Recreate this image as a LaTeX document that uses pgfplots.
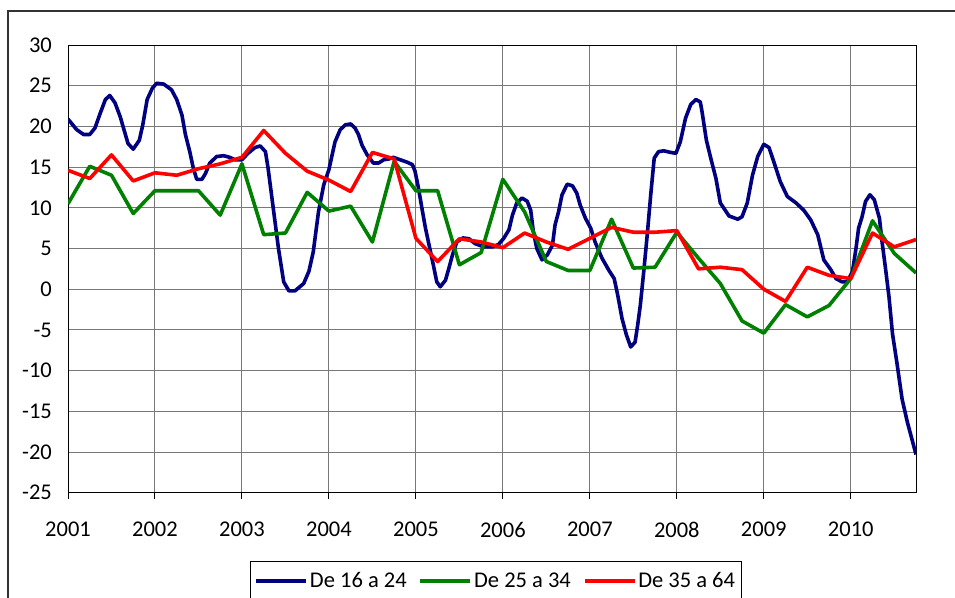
\documentclass[border=0pt]{standalone}
\usepackage{fontspec}
\setmainfont{Carlito}
\usepackage{pgfplots}
\pgfplotsset{compat=1.18}
\definecolor{cblue}{RGB}{0,0,128}
\definecolor{cgreen}{RGB}{0,128,0}
\definecolor{cred}{RGB}{255,0,0}
\definecolor{cgrid}{RGB}{120,120,120}
\newcommand{\myfont}{\fontsize{22.5bp}{27bp}\selectfont}
\begin{document}
\begin{tikzpicture}
\useasboundingbox (0bp,0bp) rectangle (955bp,-598bp);
\fill[white] (0bp,0bp) rectangle (955bp,-598bp);
\draw[line width=1.2bp, black!80] (8bp,-11bp) rectangle (965bp,-620bp);
\begin{axis}[
  at={(68bp,-45bp)}, anchor=north west,
  scale only axis, width=848bp, height=447.7bp,
  xmin=2001, xmax=2010.75, ymin=-25, ymax=30,
  xtick={2001,2002,2003,2004,2005,2006,2007,2008,2009,2010},
  ytick={-25,-20,-15,-10,-5,0,5,10,15,20,25,30},
  grid=major,
  major grid style={cgrid, line width=1bp},
  axis line style={black, line width=1bp},
  tick align=outside, major tick length=6bp,
  xtick pos=bottom, ytick pos=left,
  ytick style={draw=none},
  xtick style={black, line width=1bp},
  tick label style={font=\myfont},
  /pgf/number format/assume math mode=true,
  /pgf/number format/1000 sep={},
  xticklabel style={inner sep=0pt, anchor=north, yshift=-23bp},
  yticklabel style={inner sep=0pt, anchor=east, xshift=-10bp},
  legend columns=3,
  legend style={at={(0.2146,-0.1526)}, anchor=north west, draw=black, line width=1bp,
    font=\myfont, inner xsep=4bp, inner ysep=9bp,
    /tikz/every even column/.append style={column sep=10bp}},
  legend image code/.code={\draw[#1, line width=3.5bp] (0bp,0bp) -- (50bp,0bp);},
  every axis plot/.append style={line width=3.6bp, line join=round, mark=none},
]
\addplot[cblue] coordinates {
(2001.00,20.9) (2001.10,19.6) (2001.18,19.0) (2001.25,19.0) (2001.31,19.8) (2001.37,21.6)
(2001.43,23.3) (2001.48,23.8) (2001.54,22.9) (2001.60,21.2) (2001.66,19.0) (2001.69,17.9)
(2001.75,17.2) (2001.82,18.3) (2001.86,20.2) (2001.91,23.3) (2001.97,24.7) (2002.02,25.3)
(2002.10,25.2) (2002.19,24.5) (2002.25,23.3) (2002.31,21.4) (2002.35,19.0) (2002.40,16.9)
(2002.44,14.9) (2002.48,13.5) (2002.54,13.5) (2002.58,14.2) (2002.63,15.5) (2002.71,16.3)
(2002.79,16.4) (2002.86,16.2) (2002.92,15.9) (2003.00,15.9) (2003.07,16.7) (2003.15,17.4)
(2003.21,17.6) (2003.27,16.9) (2003.30,14.9) (2003.34,11.6) (2003.38,8.3) (2003.42,5.0)
(2003.48,0.9) (2003.54,-0.2) (2003.61,-0.2) (2003.71,0.7) (2003.77,2.2) (2003.82,4.6)
(2003.88,9.5) (2003.94,12.8) (2004.00,14.7) (2004.07,18.1) (2004.13,19.6) (2004.19,20.2)
(2004.25,20.3) (2004.30,19.8) (2004.34,19.0) (2004.38,17.7) (2004.44,16.5) (2004.51,15.5)
(2004.57,15.5) (2004.63,15.9) (2004.69,16.0) (2004.74,16.2) (2004.82,15.9) (2004.90,15.6)
(2004.96,15.3) (2004.99,14.5) (2005.03,12.4) (2005.07,9.9) (2005.11,7.5) (2005.16,5.0)
(2005.20,3.0) (2005.24,0.9) (2005.28,0.3) (2005.34,1.1) (2005.38,2.6) (2005.42,4.2)
(2005.47,5.8) (2005.54,6.3) (2005.61,6.2) (2005.68,5.6) (2005.78,5.2) (2005.88,5.2)
(2005.95,5.5) (2006.01,6.25) (2006.07,7.3) (2006.11,9.1) (2006.16,10.6) (2006.22,11.2)
(2006.28,10.8) (2006.32,9.7) (2006.35,7.1) (2006.39,5.0) (2006.45,3.6) (2006.51,4.2)
(2006.57,5.4) (2006.60,7.9) (2006.64,9.5) (2006.68,11.6) (2006.74,12.9) (2006.80,12.7)
(2006.85,11.8) (2006.89,10.3) (2006.95,8.7) (2007.01,7.5) (2007.06,5.8) (2007.14,3.8)
(2007.22,2.3) (2007.28,1.3) (2007.32,-0.7) (2007.37,-3.6) (2007.42,-5.6) (2007.47,-7.1)
(2007.52,-6.5) (2007.55,-4.4) (2007.58,-2.0) (2007.62,2.2) (2007.66,6.7) (2007.70,11.6)
(2007.74,16.1) (2007.79,16.9) (2007.85,17.0) (2007.93,16.8) (2007.99,16.7) (2008.04,18.1)
(2008.10,21.0) (2008.16,22.7) (2008.22,23.3) (2008.27,23.0) (2008.29,21.8) (2008.34,18.3)
(2008.39,16.1) (2008.45,13.6) (2008.50,10.6) (2008.60,9.0) (2008.70,8.6) (2008.75,8.9)
(2008.81,10.6) (2008.87,14.0) (2008.93,16.3) (2009.00,17.8) (2009.06,17.4) (2009.12,15.5)
(2009.19,13.2) (2009.27,11.4) (2009.37,10.6) (2009.46,9.7) (2009.54,8.5) (2009.62,6.7)
(2009.69,3.6) (2009.77,2.4) (2009.83,1.3) (2009.90,0.9) (2009.96,0.9) (2010.02,2.2)
(2010.06,5.0) (2010.09,7.5) (2010.13,8.9) (2010.17,10.8) (2010.22,11.6) (2010.27,11.0)
(2010.33,8.7) (2010.36,5.8) (2010.40,2.5) (2010.44,-1.0) (2010.48,-5.5) (2010.53,-9.0)
(2010.59,-13.5) (2010.65,-16.3) (2010.75,-20.3)
};
\addlegendentry{De 16 a 24}
\addplot[cgreen] coordinates {
(2001.00,10.5) (2001.25,15.1) (2001.50,14.0) (2001.75,9.3)
(2002.00,12.1) (2002.25,12.1) (2002.50,12.1) (2002.75,9.1)
(2003.00,15.4) (2003.25,6.7) (2003.50,6.9) (2003.75,11.9)
(2004.00,9.6) (2004.25,10.2) (2004.50,5.8) (2004.75,15.7)
(2005.00,12.1) (2005.25,12.1) (2005.50,3.0) (2005.75,4.5)
(2006.00,13.5) (2006.25,9.5) (2006.50,3.4) (2006.75,2.3)
(2007.00,2.3) (2007.25,8.6) (2007.50,2.6) (2007.75,2.7)
(2008.00,7.0) (2008.25,3.8) (2008.50,0.7) (2008.75,-3.9)
(2009.00,-5.4) (2009.25,-1.9) (2009.50,-3.4) (2009.75,-2.0)
(2010.00,1.3) (2010.25,8.4) (2010.50,4.4) (2010.75,2.0)
};
\addlegendentry{De 25 a 34}
\addplot[cred] coordinates {
(2001.00,14.6) (2001.25,13.6) (2001.50,16.5) (2001.75,13.3)
(2002.00,14.3) (2002.25,14.0) (2002.50,14.8) (2002.75,15.4)
(2003.00,16.2) (2003.25,19.5) (2003.50,16.7) (2003.75,14.5)
(2004.00,13.4) (2004.25,12.0) (2004.50,16.8) (2004.75,16.0)
(2005.00,6.25) (2005.25,3.4) (2005.50,6.2) (2005.75,5.8)
(2006.00,5.1) (2006.25,6.9) (2006.50,5.8) (2006.75,4.9)
(2007.00,6.25) (2007.25,7.6) (2007.50,7.0) (2007.75,7.0)
(2008.00,7.2) (2008.25,2.5) (2008.50,2.7) (2008.75,2.4)
(2009.00,0.0) (2009.25,-1.5) (2009.50,2.7) (2009.75,1.7)
(2010.00,1.3) (2010.25,6.9) (2010.50,5.2) (2010.75,6.1)
};
\addlegendentry{De 35 a 64}
\end{axis}
\end{tikzpicture}
\end{document}
